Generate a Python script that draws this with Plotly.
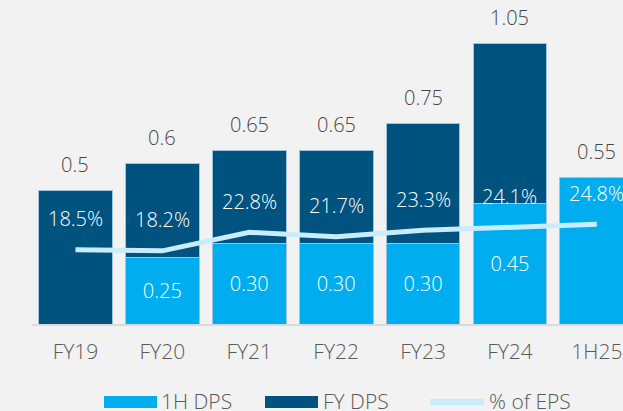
import plotly.graph_objects as go

# Dividend data
categories = ["FY19", "FY20", "FY21", "FY22", "FY23", "FY24", "1H25"]
first_half_dps = [None, 0.25, 0.30, 0.30, 0.30, 0.45, 0.55]
total_dps = [0.50, 0.60, 0.65, 0.65, 0.75, 1.05, 0.55]
pct_of_eps = [18.5, 18.2, 22.8, 21.7, 23.3, 24.1, 24.8]
show_inner_label = [False, True, True, True, True, True, False]

LIGHT = "#00AEEF"
DARK = "#00527F"
LINE = "#C8ECFB"
BG = "#F2F2F2"
FONT = "Open Sans"
FW = 300

# Full-year portion stacked on top of the first-half portion
fy_portion = []
for cat, h1, tot in zip(categories, first_half_dps, total_dps):
    if cat.startswith("1H"):
        fy_portion.append(None)
    else:
        fy_portion.append(round(tot - (h1 or 0), 4))

inner_text = [f"{v:.2f}" if (v is not None and s) else "" for v, s in zip(first_half_dps, show_inner_label)]

W_FIG, H_FIG = 623, 411
M_L, M_R, M_T, M_B = 32, 0, 10, 87
PLOT_W = W_FIG - M_L - M_R
PLOT_H = H_FIG - M_T - M_B
PX_PER_DPS = 266.7
PX_PER_PCT = 4.02


def font(color, size=20):
    return dict(family=FONT, size=size, color=color, weight=FW)


fig = go.Figure()
fig.add_trace(go.Bar(
    x=categories, y=first_half_dps, name="1H DPS",
    marker=dict(color=LIGHT, line=dict(color="#9fc3dc", width=1)),
    text=inner_text, textposition="inside", insidetextanchor="middle",
    textangle=0, constraintext="none",
    insidetextfont=font("white"),
    hoverinfo="skip",
))
fig.add_trace(go.Bar(
    x=categories, y=fy_portion, name="FY DPS",
    marker=dict(color=DARK, line=dict(color="#9fc3dc", width=1)),
    hoverinfo="skip",
))
fig.add_trace(go.Scatter(
    x=categories, y=pct_of_eps, name="% of EPS", yaxis="y2",
    mode="lines", line=dict(color=LINE, width=5),
    hoverinfo="skip",
))

annotations = []
# Totals above bars
for cat, tot in zip(categories, total_dps):
    annotations.append(dict(
        x=cat, y=tot, xref="x", yref="y", text=f"{tot:g}",
        showarrow=False, yanchor="middle", yshift=26,
        font=font("#454545"),
    ))
# Payout ratio labels above the line
for cat, p in zip(categories, pct_of_eps):
    annotations.append(dict(
        x=cat, y=p, xref="x", yref="y2", text=f"{p:.1f}%",
        showarrow=False, yanchor="middle", yshift=31,
        font=font("white"),
    ))

# Custom legend below the axis
def px_x(px):
    return (px - M_L) / PLOT_W

def px_y(py):
    return (H_FIG - M_B - py) / PLOT_H

shapes = []
legend_items = [
    ("1H DPS", "rect", LIGHT, 104, 157, 159),
    ("FY DPS", "rect", DARK, 265, 318, 321),
    ("% of EPS", "line", LINE, 430, 484, 487),
]
for label, kind, color, x0, x1, tx in legend_items:
    if kind == "rect":
        shapes.append(dict(type="rect", xref="paper", yref="paper",
                           x0=px_x(x0), x1=px_x(x1), y0=px_y(408), y1=px_y(396),
                           fillcolor=color, line=dict(width=0)))
    else:
        shapes.append(dict(type="line", xref="paper", yref="paper",
                           x0=px_x(x0), x1=px_x(x1), y0=px_y(402), y1=px_y(402),
                           line=dict(color=color, width=6)))
    annotations.append(dict(
        x=px_x(tx), y=px_y(401), xref="paper", yref="paper", text=label,
        showarrow=False, xanchor="left", yanchor="middle",
        font=font("#595959", 21),
    ))

fig.update_layout(
    width=W_FIG, height=H_FIG,
    margin=dict(l=M_L, r=M_R, t=M_T, b=M_B),
    paper_bgcolor=BG, plot_bgcolor=BG,
    barmode="stack", bargap=0.15,
    showlegend=False,
    font=font("#595959"),
    xaxis=dict(
        range=[-0.5, -0.5 + PLOT_W / 86.9],
        showline=True, linecolor="#d9d9d9", linewidth=2,
        ticks="outside", ticklen=8, tickcolor=BG,
        tickfont=font("#595959", 21),
        showgrid=False, zeroline=False, fixedrange=True,
    ),
    yaxis=dict(range=[0, PLOT_H / PX_PER_DPS], visible=False, showgrid=False, zeroline=False),
    yaxis2=dict(range=[0, PLOT_H / PX_PER_PCT], overlaying="y", visible=False,
                showgrid=False, zeroline=False),
    annotations=annotations,
    shapes=shapes,
)

fig.write_html("out.html")
